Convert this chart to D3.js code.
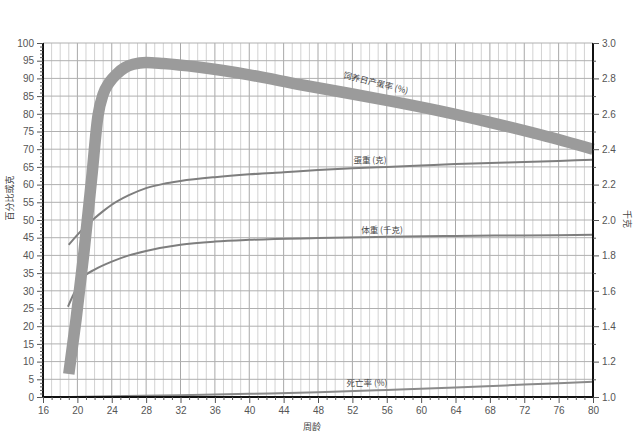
<!DOCTYPE html>
<html><head><meta charset="utf-8">
<script src="https://cdn.jsdelivr.net/npm/d3@7"></script>
<style>
html,body{margin:0;padding:0;background:#fff;}
svg{display:block;}
text{font-family:"Liberation Sans",Arial,sans-serif;}
.cjk{font-family:"Noto Sans CJK SC","Noto Sans",sans-serif;}
</style></head>
<body><svg id="c" width="636" height="433"></svg>
<script>
// ---- data ----
const xTicks = [16,20,24,28,32,36,40,44,48,52,56,60,64,68,72,76,80];
const leftTicks = [0,5,10,15,20,25,30,35,40,45,50,55,60,65,70,75,80,85,90,95,100];
const rightTicks = [1.0,1.2,1.4,1.6,1.8,2.0,2.2,2.4,2.6,2.8,3.0];

const productionWeeks = [19.0,19.85,20.77,21.67,22.4,23.0,23.7,24.6,25.5,26.5,28,30,34,40,46,52,56,62,68,74,80];
const productionPct   = [6.5,22,41,62,79.5,85.5,88.8,91.3,93,94,94.5,94.2,93.2,91,88.2,85.6,83.8,80.9,77.6,74,70];

const eggWeeks  = [19,20,21,22,23,24,26,28,30,32,36,40,44,48,52,56,60,64,68,72,76,80];
const eggGrams  = [43,45.8,48.3,50.5,52.5,54.3,57,59,60.2,61,62.1,62.9,63.5,64.1,64.6,65,65.4,65.8,66.1,66.4,66.7,67];

const bodyWeeks = [18.9,19.5,20,20.5,21,22,24,26,28,32,36,40,48,56,64,72,80];
const bodyKg    = [1.51,1.575,1.625,1.665,1.69,1.72,1.765,1.80,1.825,1.86,1.878,1.888,1.898,1.905,1.91,1.913,1.916];

const mortWeeks = [19,24,32,40,48,56,64,72,80];
const mortPct   = [0,0.2,0.5,0.9,1.35,2.0,2.7,3.5,4.3];

const labels = {
  production: "饲养日产蛋率 (%)",
  egg: "蛋重 (克)",
  body: "体重 (千克)",
  mort: "死亡率 (%)",
  xTitle: "周龄",
  yLeft: "百分比或克",
  yRight: "千克"
};

// ---- layout ----
const svg = d3.select("#c");
const L = 43, R = 593, T = 43, B = 397;
const x = d3.scaleLinear([16,80],[L,R]);
const y = d3.scaleLinear([0,100],[B,T]);
const yR = d3.scaleLinear([1,3],[B,T]);

// grid
const g = svg.append("g");
g.selectAll("line.vmin").data(d3.range(16,81,1)).join("line")
  .attr("x1",d=>x(d)).attr("x2",d=>x(d)).attr("y1",T).attr("y2",B)
  .attr("stroke",d=>d%4===0?"#a8a8a8":"#d2d2d2").attr("stroke-width",1);
g.selectAll("line.h").data(leftTicks).join("line")
  .attr("x1",L).attr("x2",R).attr("y1",d=>y(d)).attr("y2",d=>y(d))
  .attr("stroke","#b0b0b0").attr("stroke-width",1);

// lines
const line = (xs,ys,sy)=>d3.line().curve(d3.curveMonotoneX)
  .x((d,i)=>x(xs[i])).y((d,i)=>sy(ys[i]))(xs);

svg.append("path").attr("d",line(mortWeeks,mortPct,y))
  .attr("fill","none").attr("stroke","#8a8a8a").attr("stroke-width",2);
svg.append("path").attr("d",line(eggWeeks,eggGrams,y))
  .attr("fill","none").attr("stroke","#7e7e7e").attr("stroke-width",2);
svg.append("path").attr("d",line(bodyWeeks,bodyKg,yR))
  .attr("fill","none").attr("stroke","#7e7e7e").attr("stroke-width",2);
svg.append("path").attr("d",line(productionWeeks,productionPct,y))
  .attr("fill","none").attr("stroke","#9b9b9b").attr("stroke-width",11.5)
  .attr("stroke-linejoin","round");

// axes
const axL = svg.append("g").attr("transform",`translate(${L},0)`)
  .call(d3.axisLeft(y).tickValues(leftTicks).tickSize(6).tickPadding(3).tickFormat(d3.format("d")));
svg.append("g").attr("transform",`translate(${L},0)`)
  .call(d3.axisLeft(y).tickValues(d3.range(0,101,1).filter(d=>d%5)).tickSize(3).tickFormat(""))
  .call(s=>s.select(".domain").remove());
const axB = svg.append("g").attr("transform",`translate(0,${B})`)
  .call(d3.axisBottom(x).tickValues(xTicks).tickSize(6).tickPadding(4).tickFormat(d3.format("d")));
svg.append("g").attr("transform",`translate(0,${B})`)
  .call(d3.axisBottom(x).tickValues(d3.range(16,81,1).filter(d=>d%4)).tickSize(3).tickFormat(""))
  .call(s=>s.select(".domain").remove());
const axR = svg.append("g").attr("transform",`translate(${R},0)`)
  .call(d3.axisRight(yR).tickValues(rightTicks).tickSize(6).tickPadding(3).tickFormat(d3.format(".1f")));
svg.append("g").attr("transform",`translate(${R},0)`)
  .call(d3.axisRight(yR).tickValues(d3.range(1.1,3,0.2)).tickSize(3).tickFormat(""))
  .call(s=>s.select(".domain").remove());

svg.selectAll(".tick line").attr("stroke","#555");
svg.selectAll(".tick text").attr("fill","#555").style("font-size","10px")
  .style("font-family","'Liberation Sans',Arial,sans-serif");
[axL,axB,axR].forEach(a=>a.select(".domain").attr("stroke","#111").attr("stroke-width",2));
axL.select(".domain").attr("d",`M0,${T}V${B}`);
axR.select(".domain").attr("d",`M0,${T}V${B}`);
axB.select(".domain").attr("d",`M${L},0H${R}`);

// curve labels
const lab = (txt,cx,cy,rot)=>svg.append("text").attr("class","cjk")
  .attr("transform",`translate(${cx},${cy}) rotate(${rot})`)
  .attr("text-anchor","middle").attr("dominant-baseline","central")
  .attr("fill","#444").style("font-size","8.5px").text(txt);
lab(labels.production,376,82,14);
lab(labels.egg,370,159,0);
lab(labels.body,382,229,0);
lab(labels.mort,367,382,0);

// titles
svg.append("text").attr("class","cjk").attr("x",312).attr("y",426)
  .attr("text-anchor","middle").attr("dominant-baseline","central")
  .attr("fill","#444").style("font-size","9px").text(labels.xTitle);
svg.append("text").attr("class","cjk").attr("transform","translate(9,198) rotate(-90)")
  .attr("text-anchor","middle").attr("dominant-baseline","central")
  .attr("fill","#444").style("font-size","9px").text(labels.yLeft);
svg.append("text").attr("class","cjk").attr("transform","translate(627,219) rotate(90)")
  .attr("text-anchor","middle").attr("dominant-baseline","central")
  .attr("fill","#444").style("font-size","9px").text(labels.yRight);
</script></body></html>
